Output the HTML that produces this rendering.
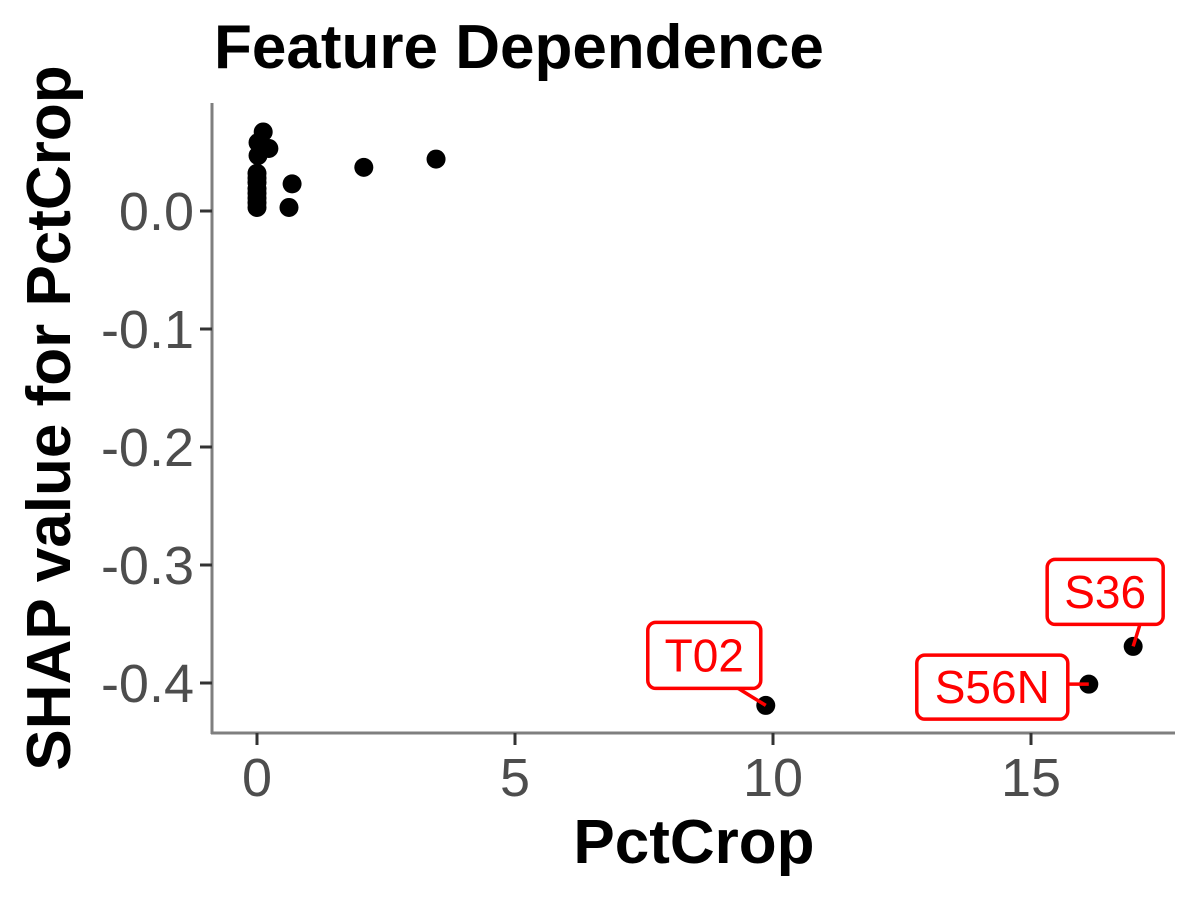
<!DOCTYPE html>
<html><head><meta charset="utf-8"><style>
html,body{margin:0;padding:0;background:#fff}
svg{display:block;font-family:"Liberation Sans",Arial,sans-serif}
</style></head><body>
<svg id="chart" width="1200" height="900" viewBox="0 0 1200 900">
<text x="214" y="68" font-size="62" font-weight="bold" fill="#000">Feature Dependence</text>
<g id="axes"></g>
<g id="points"></g>
<g id="labels"></g>
<text x="694" y="863" font-size="62" font-weight="bold" text-anchor="middle">PctCrop</text>
<text transform="translate(70,418) rotate(-90)" font-size="62" font-weight="bold" text-anchor="middle">SHAP value for PctCrop</text>
</svg>
<script>
const xVals=[0.12,0.02,0.23,0.02,0,0,0,0,0,0,0,0,0.68,0.62,2.07,3.47,9.86,16.12,16.98];
const yVals=[0.067,0.058,0.053,0.047,0.032,0.028,0.024,0.019,0.015,0.011,0.007,0.003,0.023,0.003,0.037,0.044,-0.419,-0.401,-0.369];
const xTicks=[0,5,10,15];
const yTicks=[0.0,-0.1,-0.2,-0.3,-0.4];
const yTickLabels=["0.0","-0.1","-0.2","-0.3","-0.4"];
const labelNames=["T02","S56N","S36"];
const labelIdx=[16,17,18];
const NS="http://www.w3.org/2000/svg";
const X=v=>257+v*51.6;
const Y=v=>211-v*1180;
function mk(tag,attrs,parent){const e=document.createElementNS(NS,tag);for(const k in attrs)e.setAttribute(k,attrs[k]);parent.appendChild(e);return e;}
const axes=document.getElementById('axes');
const yl=mk('line',{x1:212,y1:103,x2:212,y2:734,stroke:'#7f7f7f','stroke-width':3},axes);


const xl=mk('line',{x1:211,y1:733,x2:1175,y2:733,stroke:'#7f7f7f','stroke-width':3},axes);


xTicks.forEach(t=>{
 const l=mk('line',{x1:X(t),y1:733,x2:X(t),y2:745,stroke:'#333','stroke-width':3},axes);
 
 
 const tx=mk('text',{x:X(t),y:796,'font-size':54,'text-anchor':'middle',fill:'#4d4d4d'},axes);
 tx.textContent=String(t);
 
 
});
yTicks.forEach((t,i)=>{
 const l=mk('line',{x1:200,y1:Y(t),x2:212,y2:Y(t),stroke:'#333','stroke-width':3},axes);
 
 
 const tx=mk('text',{x:194,y:Y(t)+19,'font-size':54,'text-anchor':'end',fill:'#4d4d4d'},axes);
 tx.textContent=yTickLabels[i];
 
 
});
const pts=document.getElementById('points');
xVals.forEach((v,i)=>{
 const c=mk('circle',{cx:X(v),cy:Y(yVals[i]),r:9.5,fill:'#000'},pts);
 
 
});
const boxOff=[{dx:-118,dy:-83,w:113,h:66},{dx:-172,dy:-29,w:151,h:64},{dx:-86,dy:-87,w:116,h:65}];
const lab=document.getElementById('labels');
labelIdx.forEach((idx,k)=>{
 const px=X(xVals[idx]),py=Y(yVals[idx]);const o=boxOff[k];
 const bx=px+o.dx,by=py+o.dy;
 const g=mk('g',{},lab);
 
 
 let sx,sy;
 if(k===1){sx=bx+o.w;sy=py;}else{sx=bx+o.w*0.8;sy=by+o.h;}
 mk('line',{x1:sx,y1:sy,x2:px,y2:py,stroke:'#f00','stroke-width':3.5},g);
 mk('rect',{x:bx,y:by,width:o.w,height:o.h,rx:8,fill:'#fff',stroke:'#f00','stroke-width':3.5},g);
 const t=mk('text',{x:bx+o.w/2,y:by+o.h/2+16,'font-size':46,'text-anchor':'middle',fill:'#f00'},g);
 t.textContent=labelNames[k];
});
</script>
</body></html>
